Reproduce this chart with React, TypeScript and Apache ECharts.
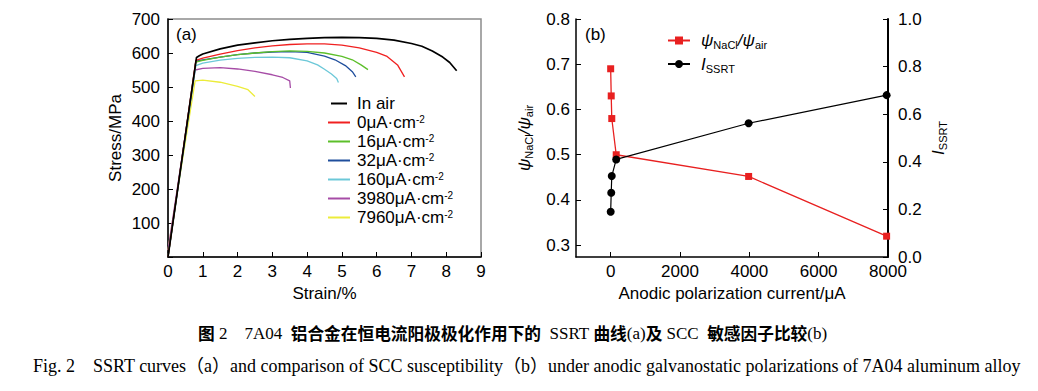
import React, { useEffect, useRef } from "react";
import * as echarts from "echarts";

// ---- Chart (a): SSRT curves, [strain %, stress MPa] ----
const curveInAir = [[0, 0], [0.82, 587], [0.9, 592], [1, 597], [1.5, 612], [2, 623], [2.5, 630], [3, 636], [3.5, 640], [4, 643], [4.5, 645], [5, 646], [5.5, 645], [6, 643], [6.5, 638], [7, 628], [7.3, 620], [7.6, 606], [7.9, 588], [8.1, 572], [8.3, 548]];
const curve0 = [[0, 0], [0.8, 578], [1, 585], [1.5, 597], [2, 607], [2.5, 615], [3, 621], [3.5, 625], [4, 627], [4.5, 627], [5, 623], [5.5, 615], [6, 602], [6.3, 590], [6.6, 565], [6.8, 530]];
const curve16 = [[0, 0], [0.8, 573], [1, 578], [1.5, 588], [2, 595], [2.5, 600], [3, 604], [3.5, 606], [4, 605], [4.5, 600], [5, 590], [5.3, 580], [5.55, 565], [5.75, 551]];
const curve32 = [[0, 0], [0.8, 576], [1, 580], [1.5, 588], [2, 595], [2.5, 600], [3, 603], [3.5, 604], [4, 602], [4.5, 591], [4.8, 580], [5.1, 563], [5.3, 545], [5.4, 530]];
const curve160 = [[0, 0], [0.8, 563], [1, 570], [1.5, 579], [2, 584], [2.5, 587], [3, 588], [3.5, 586], [4, 577], [4.3, 565], [4.5, 552], [4.7, 538], [4.85, 525], [4.9, 513]];
const curve3980 = [[0, 20], [0.78, 550], [1, 555], [1.5, 557], [2, 553], [2.5, 546], [3, 536], [3.3, 528], [3.5, 518], [3.52, 497]];
const curve7960 = [[0, 20], [0.78, 518], [1, 520], [1.5, 514], [2, 502], [2.3, 492], [2.5, 472]];

const curveNames = ["In air", "0μA·cm-2", "16μA·cm-2", "32μA·cm-2", "160μA·cm-2", "3980μA·cm-2", "7960μA·cm-2"];
const curveColors = ["#000000", "#f02020", "#5cbf2a", "#1f4e9c", "#6cc8d8", "#a64ca6", "#ecec3a"];
const curves = [curveInAir, curve0, curve16, curve32, curve160, curve3980, curve7960];

// ---- Chart (b): SCC susceptibility ----
const currents = [0, 16, 32, 160, 3980, 7960];
const psiRatio = [0.69, 0.63, 0.58, 0.5, 0.452, 0.32];
const issrt = [0.19, 0.27, 0.34, 0.41, 0.562, 0.68];

const xTicksA = [0, 1, 2, 3, 4, 5, 6, 7, 8, 9];
const xTicksB = [0, 2000, 4000, 6000, 8000];
const yTicksBLeft = [0.3, 0.4, 0.5, 0.6, 0.7, 0.8];

const SANS = "'Liberation Sans', Arial, sans-serif";
const SERIF = "'Liberation Serif', 'Times New Roman', serif";
const CJK = "'Noto Sans CJK SC', sans-serif";

const labelStyle = { fontFamily: SANS, fontSize: 17, color: "#000" };
const nameStyle = { fontFamily: SANS, fontSize: 17, color: "#000" };

export default function App() {
  const ref = useRef<HTMLDivElement>(null);
  useEffect(() => {
    if (!ref.current) return;
    const chart = echarts.init(ref.current, undefined, { renderer: "svg" });

    const seriesA = curves.map((c, i) => ({
      type: "line",
      name: curveNames[i],
      xAxisIndex: 0,
      yAxisIndex: 0,
      data: c,
      symbol: "none",
      lineStyle: { color: curveColors[i], width: i === 0 ? 1.7 : 1.3 },
      itemStyle: { color: curveColors[i] },
      z: 10 - i,
    }));

    const subRich = {
      i: { fontFamily: SANS, fontSize: 17, fontStyle: "italic", color: "#000", lineHeight: 20, verticalAlign: "middle" },
      n: { fontFamily: SANS, fontSize: 17, fontStyle: "italic", color: "#000", lineHeight: 20, verticalAlign: "middle" },
      s: { fontFamily: SANS, fontSize: 11, color: "#000", lineHeight: 20, verticalAlign: "bottom" },
    };

    const option: any = {
      animation: false,
      grid: [
        { left: 168, top: 19, width: 313, height: 238, show: true, borderColor: "#8c8c8c", borderWidth: 1.5, backgroundColor: "transparent" },
        { left: 576, top: 19, width: 312, height: 238 },
      ],
      xAxis: [
        {
          type: "value", gridIndex: 0, min: 0, max: 9, interval: 1,
          name: "Strain/%", nameLocation: "middle", nameGap: 28, nameTextStyle: nameStyle,
          axisLine: { lineStyle: { color: "#000", width: 1.5 } },
          axisTick: { inside: true, length: 5, lineStyle: { color: "#000" } },
          axisLabel: { ...labelStyle, margin: 6, customValues: xTicksA },
          splitLine: { show: false },
        },
        {
          type: "value", gridIndex: 1, min: -1000, max: 8000,
          name: "Anodic polarization current/μA", nameLocation: "middle", nameGap: 28, nameTextStyle: nameStyle,
          axisLine: { onZero: false, lineStyle: { color: "#000", width: 1.5 } },
          axisTick: { inside: true, length: 5, lineStyle: { color: "#000" }, customValues: xTicksB },
          axisLabel: { ...labelStyle, margin: 6, customValues: xTicksB, formatter: (v: number) => String(v) },
          splitLine: { show: false },
        },
      ],
      yAxis: [
        {
          type: "value", gridIndex: 0, min: 0, max: 700, interval: 100,
          name: "Stress/MPa", nameLocation: "middle", nameGap: 44, nameTextStyle: nameStyle,
          axisLine: { show: true, lineStyle: { color: "#000", width: 1.5 } },
          axisTick: { show: true, inside: true, length: 5, lineStyle: { color: "#000" } },
          axisLabel: { ...labelStyle, margin: 8, formatter: (v: number) => (v === 0 ? "" : String(v)) },
          splitLine: { show: false },
        },
        {
          type: "value", gridIndex: 1, position: "left", min: 0.274, max: 0.8,
          name: "{i|ψ}{s|NaCl}{n|/}{i|ψ}{s|air}", nameLocation: "middle", nameGap: 42,
          nameTextStyle: { ...nameStyle, rich: subRich },
          axisLine: { show: true, onZero: false, lineStyle: { color: "#000", width: 1.5 } },
          axisTick: { show: true, inside: true, length: 5, lineStyle: { color: "#000" }, customValues: yTicksBLeft },
          axisLabel: { ...labelStyle, margin: 6, customValues: yTicksBLeft, formatter: (v: number) => v.toFixed(1) },
          splitLine: { show: false },
        },
        {
          type: "value", gridIndex: 1, position: "right", min: 0, max: 1, interval: 0.2,
          name: "{i|I}{s|SSRT}", nameLocation: "middle", nameGap: 40,
          nameTextStyle: { ...nameStyle, rich: subRich },
          axisLine: { show: true, onZero: false, lineStyle: { color: "#000", width: 2 } },
          axisTick: { show: true, inside: true, length: 5, lineStyle: { color: "#000" } },
          axisLabel: { ...labelStyle, margin: 10, formatter: (v: number) => v.toFixed(1) },
          splitLine: { show: false },
        },
      ],
      legend: [
        {
          data: curveNames.map((n) => ({ name: n, icon: n === "In air" ? "path://M0,0H24V3H0Z" : "rect" })),
          orient: "vertical",
          left: 328,
          top: 95,
          padding: 0,
          itemWidth: 22,
          itemHeight: 2,
          itemGap: 2,
          textStyle: {
            fontFamily: SANS, fontSize: 17, color: "#000", lineHeight: 16, padding: [0, 0, 0, 2],
            rich: { sup: { fontFamily: SANS, fontSize: 10, color: "#000", verticalAlign: "top", lineHeight: 16 } },
          },
          formatter: (name: string) => (name === "In air" ? name : name.replace("-2", "") + "{sup|-2}"),
        },
        {
          data: ["psi", "issrt"],
          orient: "vertical",
          left: 667,
          top: 32,
          padding: 0,
          itemWidth: 22,
          itemHeight: 10,
          itemGap: 5,
          textStyle: { fontFamily: SANS, fontSize: 17, color: "#000", padding: [0, 0, 0, 6], rich: subRich },
          formatter: (name: string) => (name === "psi" ? "{i|ψ}{s|NaCl}{n|/}{i|ψ}{s|air}" : "{i|I}{s|SSRT}"),
        },
      ],
      series: [
        ...seriesA,
        {
          type: "line", name: "psi", xAxisIndex: 1, yAxisIndex: 1,
          data: currents.map((c, i) => [c, psiRatio[i]]),
          symbol: "rect", symbolSize: 7,
          lineStyle: { color: "#e82020", width: 1.3 },
          itemStyle: { color: "#e82020" },
          z: 5,
        },
        {
          type: "line", name: "issrt", xAxisIndex: 1, yAxisIndex: 2,
          data: currents.map((c, i) => [c, issrt[i]]),
          symbol: "circle", symbolSize: 8,
          lineStyle: { color: "#000", width: 1.2 },
          itemStyle: { color: "#000" },
          z: 6,
        },
      ],
      graphic: [
        { type: "text", x: 176, y: 34, style: { text: "(a)", fontFamily: SANS, fontSize: 17, fill: "#000", verticalAlign: "middle" } },
        { type: "text", x: 585, y: 34, style: { text: "(b)", fontFamily: SANS, fontSize: 17, fill: "#000", verticalAlign: "middle" } },
        {
          type: "text", x: 198, y: 333,
          style: {
            text: "{c|图} {l|2}    {l|7A04}  {c|铝合金在恒电流阳极极化作用下的}  {l|SSRT} {c|曲线}{l|(a)}{c|及} {l|SCC}  {c|敏感因子比较}{l|(b)}",
            verticalAlign: "middle",
            rich: {
              c: { fontFamily: CJK, fontSize: 16.7, fontWeight: "bold", fill: "#000" },
              l: { fontFamily: SERIF, fontSize: 17, fill: "#000" },
            },
            fontFamily: SERIF, fontSize: 17, fill: "#000",
          },
        },
        {
          type: "text", x: 33, y: 366,
          style: {
            text: "Fig. 2    SSRT curves（a）and comparison of SCC susceptibility（b）under anodic galvanostatic polarizations of 7A04 aluminum alloy",
            verticalAlign: "middle",
            fontFamily: SERIF + ", 'Noto Sans CJK SC'", fontSize: 18, fill: "#000",
          },
        },
      ],
    };
    chart.setOption(option);
    return () => chart.dispose();
  }, []);
  return <div ref={ref} style={{ position: "absolute", left: 0, top: 0, width: 1038, height: 391 }} />;
}
